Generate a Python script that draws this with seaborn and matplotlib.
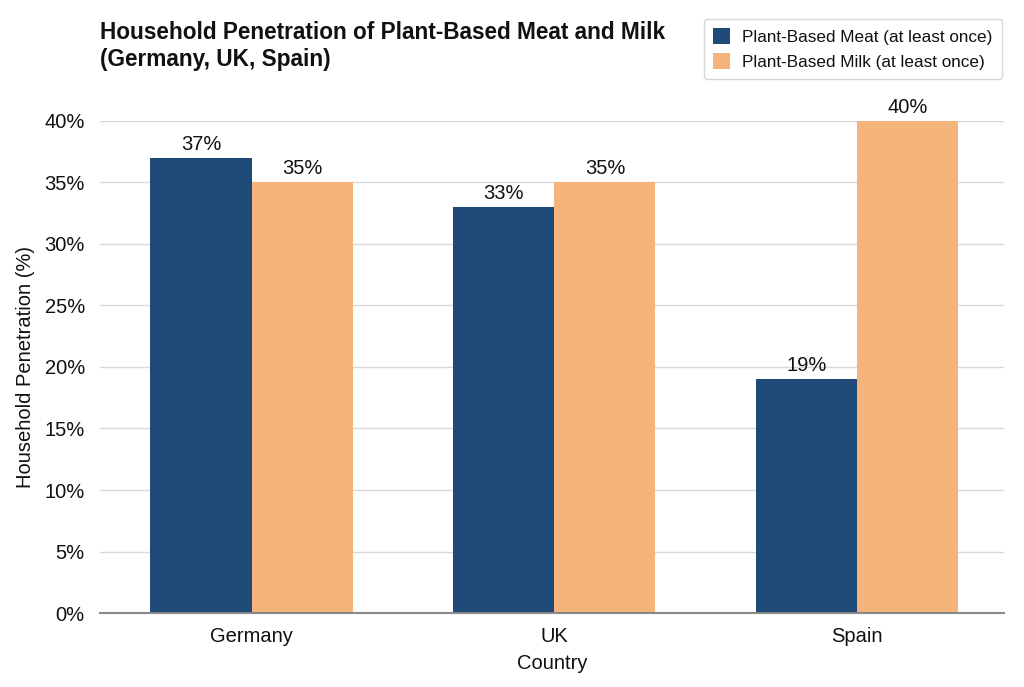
import pandas as pd
import matplotlib.pyplot as plt
import seaborn as sns

# Data
countries = ['Germany', 'UK', 'Spain']
meat_pct = [37, 33, 19]
milk_pct = [35, 35, 40]
series_names = ['Plant-Based Meat (at least once)', 'Plant-Based Milk (at least once)']
colors = ['#1f4a78', '#f5b47c']

df = pd.DataFrame({
    'Country': countries * 2,
    'Penetration': meat_pct + milk_pct,
    'Series': [series_names[0]] * 3 + [series_names[1]] * 3,
})

sns.set_style('white')
plt.rcParams['font.family'] = ['Liberation Sans', 'DejaVu Sans']
plt.rcParams['text.color'] = '#111111'
plt.rcParams['axes.labelcolor'] = '#111111'
plt.rcParams['xtick.color'] = '#111111'
plt.rcParams['ytick.color'] = '#111111'

fig = plt.figure(figsize=(10.24, 6.87), dpi=100)
ax = fig.add_axes([0.0977, 0.1077, 0.883, 0.7162])

sns.barplot(data=df, x='Country', y='Penetration', hue='Series',
            palette=colors, width=0.667, saturation=1, linewidth=0, ax=ax)

for container in ax.containers:
    ax.bar_label(container, labels=[f'{v:.0f}%' for v in container.datavalues],
                 fontsize=14.5, padding=3, clip_on=False)

ax.set_ylim(0, 40)
ax.set_xlim(-0.5, 2.485)
ax.set_yticks(range(0, 41, 5))
ax.set_yticklabels([f'{v}%' for v in range(0, 41, 5)], fontsize=14.5)
ax.tick_params(axis='x', labelsize=14.5, length=0, pad=10)
ax.tick_params(axis='y', length=0, pad=11)
ax.yaxis.grid(True, color='#d9d9d9', linewidth=1)
ax.set_axisbelow(True)
for side in ['top', 'right', 'left']:
    ax.spines[side].set_visible(False)
ax.spines['bottom'].set_color('#888888')
ax.spines['bottom'].set_linewidth(1.5)

ax.set_xlabel('Country', fontsize=14.5, labelpad=6)
ax.set_ylabel('Household Penetration (%)', fontsize=14.5, labelpad=7)

fig.text(0.0977, 0.97, 'Household Penetration of Plant-Based Meat and Milk\n(Germany, UK, Spain)',
         fontsize=16.3, fontweight='bold', ha='left', va='top', linespacing=1.25)

leg = ax.legend(loc='upper right', bbox_to_anchor=(0.987, 0.985), bbox_transform=fig.transFigure,
                fontsize=12.3, frameon=True, handlelength=1.0, handleheight=1.0,
                handletextpad=0.7, borderpad=0.55, labelspacing=0.5)
leg.get_frame().set_edgecolor('#cccccc')

fig.savefig('out.png', dpi=100)
